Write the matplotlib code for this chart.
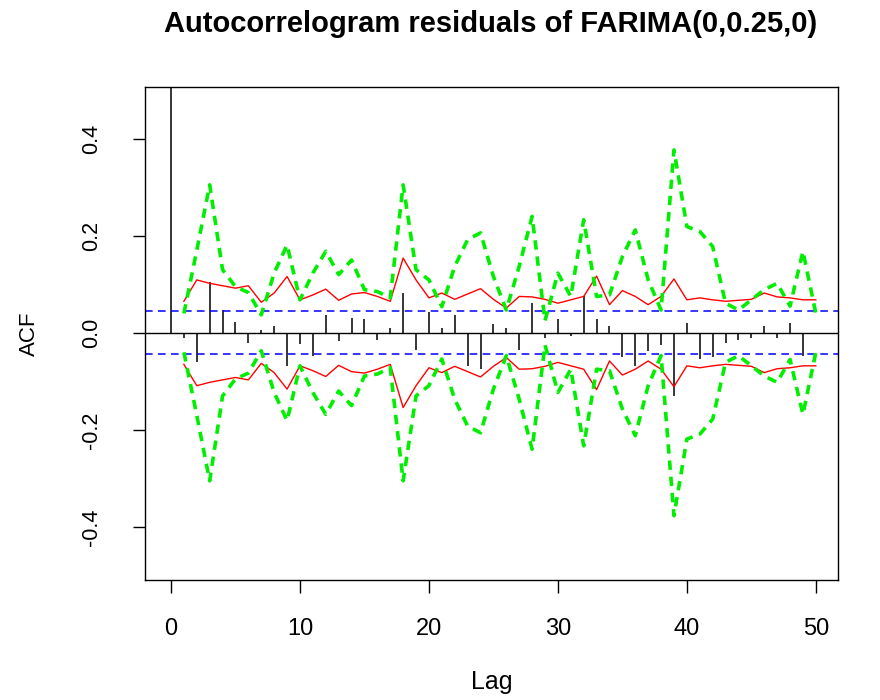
import numpy as np
import matplotlib
matplotlib.use("Agg")
import matplotlib.pyplot as plt

plt.rcParams['font.family'] = ['Liberation Sans', 'DejaVu Sans']

# sample ACF of the residuals, lag 0..50
lags = np.arange(0, 51)
acf = [1.0, -0.011, -0.060, 0.104, 0.047, 0.022, -0.020, 0.006, 0.015, -0.069,
       -0.023, -0.047, 0.037, -0.017, 0.030, 0.028, -0.014, 0.010, 0.083, -0.035,
       0.042, 0.010, 0.037, -0.069, -0.075, 0.018, 0.010, -0.035, 0.061, -0.010,
       0.028, -0.007, 0.075, 0.028, 0.014, -0.050, -0.069, -0.038, -0.025, -0.130,
       0.021, -0.054, -0.049, -0.020, -0.014, -0.011, 0.015, -0.010, 0.021, -0.047,
       0.0]

# bands for lag 1..50
band_lags = np.arange(1, 51)
red_band = [0.065, 0.109, 0.102, 0.097, 0.092, 0.097, 0.063, 0.082, 0.116, 0.068,
            0.078, 0.090, 0.067, 0.080, 0.083, 0.075, 0.065, 0.154, 0.109, 0.072,
            0.082, 0.069, 0.080, 0.091, 0.069, 0.051, 0.075, 0.074, 0.069, 0.061,
            0.068, 0.075, 0.117, 0.058, 0.087, 0.075, 0.058, 0.075, 0.111, 0.068,
            0.072, 0.068, 0.065, 0.067, 0.069, 0.082, 0.074, 0.072, 0.068, 0.068]
green_band = [0.040, 0.170, 0.305, 0.130, 0.095, 0.083, 0.037, 0.123, 0.181, 0.068,
              0.123, 0.168, 0.120, 0.150, 0.089, 0.085, 0.072, 0.305, 0.130, 0.109,
              0.054, 0.137, 0.192, 0.206, 0.116, 0.047, 0.137, 0.240, 0.025, 0.123,
              0.075, 0.233, 0.075, 0.078, 0.157, 0.212, 0.109, 0.047, 0.377, 0.219,
              0.209, 0.178, 0.061, 0.047, 0.068, 0.089, 0.102, 0.055, 0.168, 0.040]
ci = 0.044

red_band = np.array(red_band)
green_band = np.array(green_band)

fig = plt.figure(figsize=(8.8, 7), dpi=100)
ax = fig.add_axes([0.165, 0.171, 0.787, 0.705])

ax.vlines(lags, 0, acf, color='black', lw=1.1)
ax.axhline(0, color='black', lw=1.0)
ax.axhline(ci, color='blue', lw=1.1, ls=(0, (5, 3.5)))
ax.axhline(-ci, color='blue', lw=1.1, ls=(0, (5, 3.5)))

ax.plot(band_lags, red_band, color='red', lw=1.0)
ax.plot(band_lags, -red_band, color='red', lw=1.0)
ax.plot(band_lags, green_band, color='#00ee00', lw=2.6, ls=(0, (2.6, 1.9)))
ax.plot(band_lags, -green_band, color='#00ee00', lw=2.6, ls=(0, (2.6, 1.9)))

ax.set_xlim(-2, 51.7)
ax.set_ylim(-0.51, 0.507)
ax.set_xticks([0, 10, 20, 30, 40, 50])
ax.set_yticks([-0.4, -0.2, 0.0, 0.2, 0.4])
ax.set_yticklabels(['-0.4', '-0.2', '0.0', '0.2', '0.4'], rotation=90, va='center')
ax.tick_params(direction='out', length=9, width=1.0)
ax.tick_params(axis='x', labelsize=17, pad=18)
ax.tick_params(axis='y', labelsize=15.5, pad=22)
for s in ax.spines.values():
    s.set_linewidth(1.0)

ax.set_xlabel('Lag', fontsize=18, labelpad=22)
ax.set_ylabel('ACF', fontsize=16, labelpad=30)
fig.suptitle('Autocorrelogram residuals of FARIMA(0,0.25,0)', fontsize=21,
             fontweight='bold', x=0.557, y=0.985)

fig.savefig('out.png', dpi=100)
